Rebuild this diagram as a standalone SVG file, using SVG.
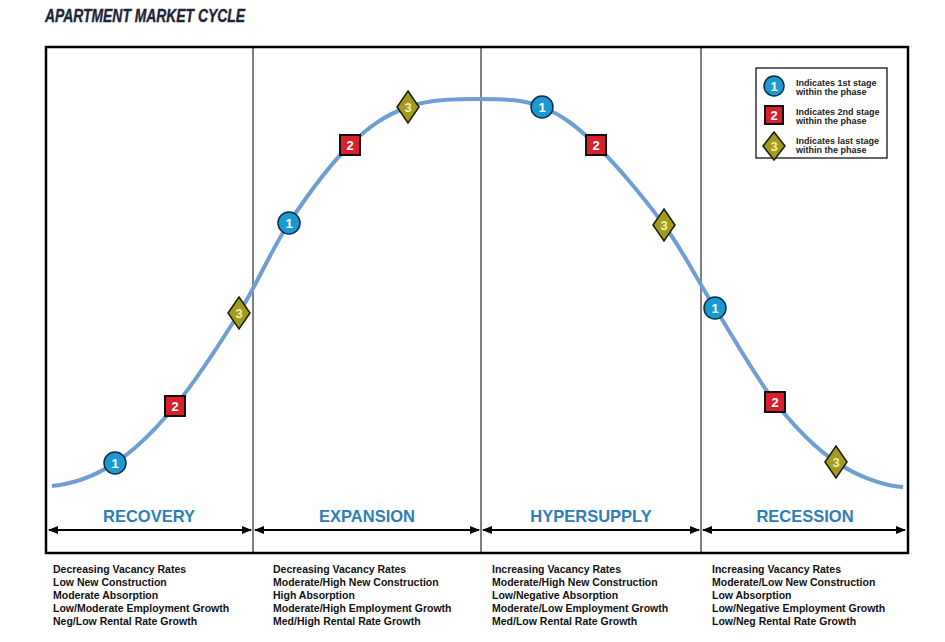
<svg xmlns="http://www.w3.org/2000/svg" width="945" height="642" viewBox="0 0 945 642">
<style>
.title{font-family:"Liberation Sans",Arial,sans-serif;font-weight:bold;font-style:italic;font-size:18px;fill:#1c2636;stroke:#1c2636;stroke-width:0.4}
.phase{font-family:"Liberation Sans",Arial,sans-serif;font-weight:bold;font-size:16.5px;fill:#2d7db9;text-anchor:middle}
.desc{font-family:"Liberation Sans",Arial,sans-serif;font-weight:bold;font-size:10.5px;fill:#111}
.leg{font-family:"Liberation Sans",Arial,sans-serif;font-weight:bold;font-size:9px;fill:#222}
.num{font-family:"Liberation Sans",Arial,sans-serif;font-weight:bold;font-size:13px;text-anchor:middle}
.c1{fill:#1a9ad2;stroke:#0d2e44;stroke-width:1.5}
.c2{fill:#d8202c;stroke:#111;stroke-width:2}
.c3{fill:#a39b1e;stroke:#1a1a08;stroke-width:1.5}
.div{stroke:#000;stroke-width:1}
.arr{stroke:#000;stroke-width:2;marker-start:url(#ah);marker-end:url(#ah)}
</style>
<defs>
<marker id="ah" viewBox="0 0 10 10" refX="9" refY="5" markerWidth="5" markerHeight="5" orient="auto-start-reverse">
<path d="M0,1 L10,5 L0,9 Z" fill="#000"/>
</marker>
</defs>
<rect width="945" height="642" fill="#fff"/>
<text class="title" x="45" y="22" textLength="200" lengthAdjust="spacingAndGlyphs">APARTMENT MARKET CYCLE</text>
<rect x="46" y="47" width="862" height="506" fill="none" stroke="#000" stroke-width="2.5"/>
<g id="connectors">
<line class="div" x1="253" y1="47" x2="253" y2="553"/>
<line class="div" x1="481" y1="47" x2="481" y2="553"/>
<line class="div" x1="701" y1="47" x2="701" y2="553"/>
<line class="arr" x1="49" y1="530" x2="251" y2="530"/>
<line class="arr" x1="255" y1="530" x2="479" y2="530"/>
<line class="arr" x1="483" y1="530" x2="699" y2="530"/>
<line class="arr" x1="703" y1="530" x2="905" y2="530"/>
<path id="curve" fill="none" stroke="#6f9fd2" stroke-width="4" d="M52,486 C72,484 94.5,476.3 115,463 C135.5,449.7 154.3,431 175,406 C195.7,381 220,343.5 239,313 C258,282.5 270.5,251 289,223 C307.5,195 330.2,164.3 350,145 C369.8,125.7 386.3,114.7 408,107 C429.7,99.3 457.7,99 480,99 C502.3,99 522.7,99.3 542,107 C561.3,114.7 575.7,125.3 596,145 C616.3,164.7 644.2,197.8 664,225 C683.8,252.2 696.5,278.5 715,308 C733.5,337.5 754.8,376.3 775,402 C795.2,427.7 814.7,447.8 836,462 C857.3,476.2 883,486 903,487"/>
</g>
<g id="recovery">
<text class="phase" x="149" y="522">RECOVERY</text>
<g id="rec1"><circle class="c1" cx="115" cy="463" r="11"/><text class="num" x="115" y="468" fill="#fff">1</text></g>
<g id="rec2"><rect class="c2" x="165" y="396" width="20" height="20"/><text class="num" x="175" y="411" fill="#fff">2</text></g>
<g id="rec3"><polygon class="c3" points="239,297 250,313 239,329 228,313"/><text class="num" x="239" y="318" fill="#f4eeb0">3</text></g>
<text class="desc" x="53" y="573">Decreasing Vacancy Rates</text>
<text class="desc" x="53" y="586">Low New Construction</text>
<text class="desc" x="53" y="599">Moderate Absorption</text>
<text class="desc" x="53" y="612">Low/Moderate Employment Growth</text>
<text class="desc" x="53" y="625">Neg/Low Rental Rate Growth</text>
</g>
<g id="expansion">
<text class="phase" x="367" y="522">EXPANSION</text>
<g id="exp1"><circle class="c1" cx="289" cy="223" r="11"/><text class="num" x="289" y="228" fill="#fff">1</text></g>
<g id="exp2"><rect class="c2" x="340" y="135" width="20" height="20"/><text class="num" x="350" y="150" fill="#fff">2</text></g>
<g id="exp3"><polygon class="c3" points="408,91 419,107 408,123 397,107"/><text class="num" x="408" y="112" fill="#f4eeb0">3</text></g>
<text class="desc" x="273" y="573">Decreasing Vacancy Rates</text>
<text class="desc" x="273" y="586">Moderate/High New Construction</text>
<text class="desc" x="273" y="599">High Absorption</text>
<text class="desc" x="273" y="612">Moderate/High Employment Growth</text>
<text class="desc" x="273" y="625">Med/High Rental Rate Growth</text>
</g>
<g id="hypersupply">
<text class="phase" x="591" y="522">HYPERSUPPLY</text>
<g id="hyp1"><circle class="c1" cx="542" cy="107" r="11"/><text class="num" x="542" y="112" fill="#fff">1</text></g>
<g id="hyp2"><rect class="c2" x="586" y="135" width="20" height="20"/><text class="num" x="596" y="150" fill="#fff">2</text></g>
<g id="hyp3"><polygon class="c3" points="664,209 675,225 664,241 653,225"/><text class="num" x="664" y="230" fill="#f4eeb0">3</text></g>
<text class="desc" x="492" y="573">Increasing Vacancy Rates</text>
<text class="desc" x="492" y="586">Moderate/High New Construction</text>
<text class="desc" x="492" y="599">Low/Negative Absorption</text>
<text class="desc" x="492" y="612">Moderate/Low Employment Growth</text>
<text class="desc" x="492" y="625">Med/Low Rental Rate Growth</text>
</g>
<g id="recession">
<text class="phase" x="805" y="522">RECESSION</text>
<g id="res1"><circle class="c1" cx="715" cy="308" r="11"/><text class="num" x="715" y="313" fill="#fff">1</text></g>
<g id="res2"><rect class="c2" x="765" y="392" width="20" height="20"/><text class="num" x="775" y="407" fill="#fff">2</text></g>
<g id="res3"><polygon class="c3" points="836,446 847,462 836,478 825,462"/><text class="num" x="836" y="467" fill="#f4eeb0">3</text></g>
<text class="desc" x="712" y="573">Increasing Vacancy Rates</text>
<text class="desc" x="712" y="586">Moderate/Low New Construction</text>
<text class="desc" x="712" y="599">Low Absorption</text>
<text class="desc" x="712" y="612">Low/Negative Employment Growth</text>
<text class="desc" x="712" y="625">Low/Neg Rental Rate Growth</text>
</g>
<g id="legend">
<rect x="756" y="68" width="131" height="90" fill="#fff" stroke="#000" stroke-width="1.2"/>
<g id="leg1"><circle class="c1" cx="774" cy="86" r="10"/><text class="num" x="774" y="91" fill="#fff">1</text></g>
<g id="leg2"><rect class="c2" x="765" y="106" width="18" height="18"/><text class="num" x="774" y="120" fill="#fff">2</text></g>
<g id="leg3"><polygon class="c3" points="774,132 785,146 774,160 763,146"/><text class="num" x="774" y="151" fill="#f4eeb0">3</text></g>
<text class="leg" x="796" y="86">Indicates 1st stage</text>
<text class="leg" x="796" y="95">within the phase</text>
<text class="leg" x="796" y="115">Indicates 2nd stage</text>
<text class="leg" x="796" y="124">within the phase</text>
<text class="leg" x="796" y="144">Indicates last stage</text>
<text class="leg" x="796" y="153">within the phase</text>
</g>
</svg>
